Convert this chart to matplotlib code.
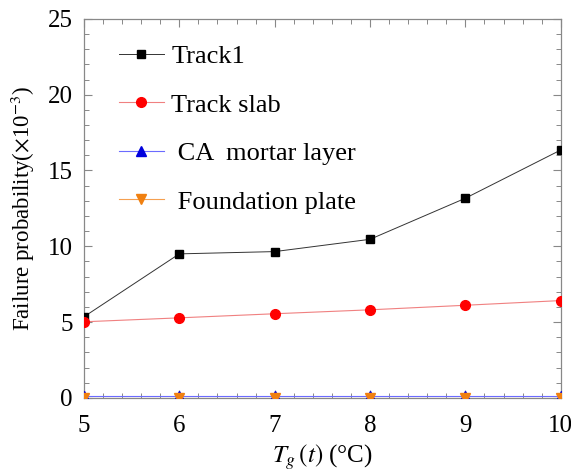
import matplotlib
matplotlib.use("Agg")
import matplotlib.pyplot as plt
from matplotlib.ticker import MultipleLocator

temps = [5, 6, 7, 8, 9, 10]
track1 = [5.35, 9.5, 9.65, 10.46, 13.17, 16.35]
track_slab = [5.02, 5.28, 5.55, 5.81, 6.11, 6.42]
ca_mortar = [0.15, 0.15, 0.15, 0.15, 0.15, 0.15]
foundation = [0.02, 0.02, 0.02, 0.02, 0.02, 0.02]

plt.rcParams["font.family"] = ["Liberation Serif", "DejaVu Serif"]
plt.rcParams["mathtext.fontset"] = "stix"

fig = plt.figure(figsize=(5.71, 4.72), dpi=100)
ax = fig.add_axes([0.147, 0.157, 0.835, 0.803])

# markers at the frame edges are cut by the axes, as in the original figure
ax.plot(temps, track1, color="#333333", lw=0.7, marker="s", ms=6,
        mfc="black", mec="black", label="Track1", zorder=4)
ax.plot(temps, track_slab, color="#f08080", lw=0.8, marker="o", ms=7,
        mfc="red", mec="red", label="Track slab", zorder=4)
ax.plot(temps, ca_mortar, color="#6b6bff", lw=0.8, marker="^", ms=6.5,
        mfc="#0000dd", mec="#0000dd", label=" CA  mortar layer", zorder=3)
ax.plot(temps, foundation, color="#f5a050", lw=0.8, marker="v", ms=6.5,
        mfc="#f08010", mec="#f08010", label=" Foundation plate", zorder=3)

ax.set_xlim(5, 10)
ax.set_ylim(0, 25)
ax.xaxis.set_major_locator(MultipleLocator(1))
ax.xaxis.set_minor_locator(MultipleLocator(0.2))
ax.yaxis.set_major_locator(MultipleLocator(5))
ax.yaxis.set_minor_locator(MultipleLocator(1))
ax.tick_params(which="both", direction="in", top=True, right=True,
               color="#888888", labelsize=18)
ax.tick_params(which="major", length=6, width=0.8)
ax.tick_params(axis="x", which="major", pad=12)
ax.tick_params(axis="y", which="major", pad=8)
ax.tick_params(which="minor", length=3.5, width=0.7)
for s in ax.spines.values():
    s.set_color("#888888")
    s.set_linewidth(0.9)

ax.set_xlabel(r"$T_g\,(t)$ (°C)", fontsize=18, labelpad=4)
ax.set_ylabel(r"Failure probability($\times$10$^{-3}$)", fontsize=16.5, labelpad=8)

ax.legend(loc="upper left", bbox_to_anchor=(0.023, 0.995), frameon=False,
          fontsize=19, labelspacing=0.95, handlelength=1.7, handletextpad=0.3)

fig.savefig("out.png", dpi=100)
